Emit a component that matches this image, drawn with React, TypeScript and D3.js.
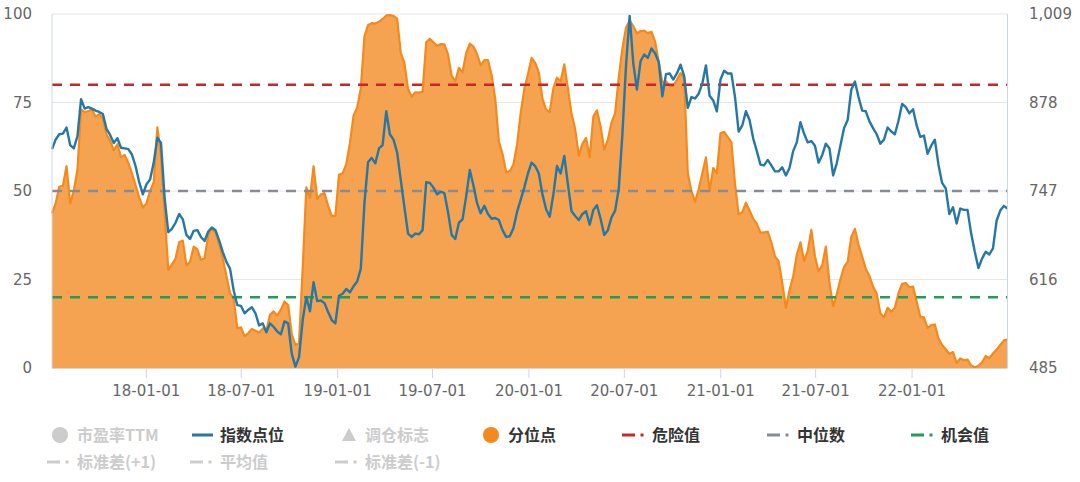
import * as d3 from "d3";
import { useEffect, useRef } from "react";

// 数据区间（首尾两个交易周）
const START = new Date(2017, 6, 6);
const END = new Date(2022, 6, 3);

// 分位点（%），按周
const percentile = [
  43.7, 46.5, 51.2, 51.5, 57.0, 46.5, 50.0, 56.0, 73.0, 72.3,
  72.6, 73.0, 71.0, 71.7, 70.5, 66.0, 64.2, 61.5, 63.2, 59.5,
  60.2, 58.0, 55.0, 51.6, 48.2, 45.3, 46.5, 50.0, 52.5, 68.0,
  60.0, 44.0, 27.7, 29.2, 30.9, 35.5, 36.0, 29.0, 30.0, 34.3,
  33.5, 30.5, 31.0, 37.5, 39.5, 38.3, 35.0, 31.0, 26.0, 21.1,
  19.7, 11.2, 11.5, 9.0, 9.8, 11.0, 10.5, 10.0, 11.2, 10.5,
  15.0, 16.0, 14.8, 16.5, 18.8, 17.8, 9.5, 6.5, 7.0, 28.0,
  51.0, 48.0, 57.0, 47.8, 49.0, 49.4, 45.8, 43.0, 43.0, 54.6,
  55.0, 57.6, 63.5, 71.3, 73.5, 79.0, 93.7, 96.9, 97.4, 97.3,
  97.8, 98.6, 99.6, 99.7, 99.5, 98.7, 89.0, 86.2, 78.8, 76.6,
  77.9, 77.8, 78.0, 92.0, 93.0, 92.0, 91.0, 91.5, 91.4, 88.6,
  82.5, 81.0, 84.8, 83.5, 89.0, 91.6, 90.8, 88.7, 85.5, 87.0,
  87.0, 82.8, 76.0, 64.0, 60.5, 55.3, 55.6, 57.5, 63.0, 72.0,
  78.8, 83.0, 87.6, 86.2, 83.5, 76.0, 73.0, 72.3, 79.0, 82.0,
  81.0, 85.8, 79.0, 71.8, 67.5, 60.0, 63.3, 65.0, 59.5, 71.0,
  72.8, 68.2, 61.7, 64.5, 69.3, 72.0, 82.0, 90.3, 96.2, 98.1,
  96.6, 94.5, 95.2, 95.3, 94.6, 95.0, 92.2, 86.5, 80.7, 81.0,
  79.7, 79.7, 81.4, 83.3, 82.0, 55.0, 50.0, 47.0, 50.5, 55.0,
  59.5, 50.0, 56.5, 55.0, 66.3, 66.7, 65.2, 63.8, 52.0, 43.4,
  44.0, 46.7, 44.5, 42.2, 40.7, 38.2, 38.3, 38.5, 35.5, 31.5,
  30.2, 24.0, 17.0, 22.0, 25.8, 32.0, 35.5, 30.3, 33.0, 39.0,
  31.5, 27.3, 29.0, 34.3, 24.0, 17.5, 20.8, 25.0, 28.5, 30.0,
  37.0, 39.3, 34.8, 31.5, 28.0, 26.0, 23.0, 21.0, 15.5, 14.3,
  17.0, 15.9, 17.0, 21.2, 23.8, 24.0, 22.8, 23.0, 18.8, 14.5,
  14.3, 11.3, 12.1, 12.3, 8.3, 6.5, 5.3, 4.0, 4.5, 1.4,
  2.7, 2.2, 2.4, 0.7, 0.2, 0.6, 1.6, 3.4, 2.8, 4.1,
  5.2, 6.5, 7.8, 8.0,
];

// 指数点位，按周
const indexPoints = [
  809, 823, 831, 832, 841, 815, 810, 828, 883, 869,
  871, 869, 866, 864, 861, 839, 830, 818, 825, 811,
  810, 809, 801, 784, 760, 742, 757, 764, 789, 826,
  818, 737, 686, 691, 700, 713, 705, 682, 676, 688,
  689, 679, 673, 687, 693, 689, 674, 657, 642, 632,
  600, 578, 577, 566, 571, 575, 566, 548, 551, 538,
  551, 546, 539, 535, 554, 551, 506, 487, 501, 556,
  590, 569, 612, 584, 585, 581, 568, 556, 551, 592,
  595, 602, 597, 606, 613, 632, 729, 790, 796, 788,
  810, 815, 865, 831, 823, 804, 763, 723, 684, 679,
  684, 683, 689, 760, 759, 752, 742, 746, 744, 716,
  682, 676, 700, 705, 739, 778, 755, 729, 714, 725,
  713, 706, 707, 704, 689, 679, 680, 692, 716, 734,
  752, 773, 789, 784, 773, 742, 720, 709, 742, 784,
  773, 799, 757, 717, 710, 704, 713, 717, 697, 719,
  726, 706, 682, 689, 708, 718, 750, 831, 933, 1006,
  936, 897, 939, 949, 944, 958, 951, 938, 887, 920,
  921, 912, 921, 934, 917, 870, 886, 884, 891, 906,
  933, 888, 881, 865, 912, 925, 921, 921, 886, 835,
  844, 865, 852, 825, 806, 786, 785, 793, 785, 776,
  776, 782, 770, 781, 806, 819, 849, 832, 819, 821,
  814, 789, 800, 817, 810, 770, 788, 814, 840, 852,
  897, 909, 886, 866, 865, 850, 840, 831, 817, 823,
  841, 835, 831, 851, 876, 871, 862, 868, 844, 827,
  829, 802, 814, 823, 786, 759, 751, 713, 723, 699,
  721, 719, 719, 684, 657, 633, 647, 657, 653, 662,
  703, 718, 725, 721,
];

const leftTicks = [0, 25, 50, 75, 100];
const rightTicks = [485, 616, 747, 878, 1009];
const xTickLabels = [
  "2018-01-01", "2018-07-01", "2019-01-01", "2019-07-01", "2020-01-01",
  "2020-07-01", "2021-01-01", "2021-07-01", "2022-01-01",
];

// 参考线：危险值 / 中位数 / 机会值
const refNames = ["危险值", "中位数", "机会值"];
const refValues = [80, 50, 20];
const refColors = ["#c9262c", "#868b94", "#1f9d5b"];

const BLUE = "#2577a6";
const ORANGE = "#f4891c";
const ORANGE_FILL = "#f5a350";

const legendRow1 = ["市盈率TTM", "指数点位", "调仓标志", "分位点", "危险值", "中位数", "机会值"];
const legendRow2 = ["标准差(+1)", "平均值", "标准差(-1)"];

export default function App() {
  const ref = useRef<SVGSVGElement | null>(null);

  useEffect(() => {
    if (!ref.current) return;
    const svg = d3.select(ref.current);
    svg.selectAll("*").remove();

    const left = 52;
    const right = 1007.5;
    const top = 14;
    const bottom = 368;

    const x = d3.scaleTime().domain([START, END]).range([left, right]);
    const yL = d3.scaleLinear().domain([0, 100]).range([bottom, top]);
    const yR = d3.scaleLinear().domain([485, 1009]).range([bottom, top]);

    const step = (END.getTime() - START.getTime()) / (percentile.length - 1);
    const dates = percentile.map((_, i) => new Date(START.getTime() + i * step));

    const axisFont = "'DejaVu Sans', Verdana, sans-serif";
    const cjkFont = "'Noto Sans CJK SC', 'Noto Sans', sans-serif";

    // grid
    svg
      .append("g")
      .selectAll("line")
      .data(leftTicks.filter((t) => t > 0))
      .join("line")
      .attr("x1", left)
      .attr("x2", right)
      .attr("y1", (d) => yL(d))
      .attr("y2", (d) => yL(d))
      .attr("stroke", "#e6e6e6")
      .attr("stroke-width", 1);

    // area + line for 分位点
    const area = d3
      .area<number>()
      .x((_, i) => x(dates[i]))
      .y0(bottom)
      .y1((d) => yL(d));
    const pLine = d3
      .line<number>()
      .x((_, i) => x(dates[i]))
      .y((d) => yL(d));

    svg.append("path").datum(percentile).attr("d", area).attr("fill", ORANGE_FILL);
    svg
      .append("path")
      .datum(percentile)
      .attr("d", pLine)
      .attr("fill", "none")
      .attr("stroke", ORANGE)
      .attr("stroke-width", 2.2)
      .attr("stroke-linejoin", "round");

    // reference lines
    svg
      .append("g")
      .selectAll("line")
      .data(refValues)
      .join("line")
      .attr("x1", left)
      .attr("x2", right)
      .attr("y1", (d) => yL(d))
      .attr("y2", (d) => yL(d))
      .attr("stroke", (_, i) => refColors[i])
      .attr("stroke-width", 2.6)
      .attr("stroke-dasharray", "10,8");

    // 指数点位
    const iLine = d3
      .line<number>()
      .x((_, i) => x(dates[i]))
      .y((d) => yR(d));
    svg
      .append("path")
      .datum(indexPoints)
      .attr("d", iLine)
      .attr("fill", "none")
      .attr("stroke", BLUE)
      .attr("stroke-width", 2.4)
      .attr("stroke-linejoin", "round");

    // frame lines
    const frame = "#ccd6eb";
    svg.append("line").attr("x1", left).attr("x2", left).attr("y1", top).attr("y2", bottom).attr("stroke", frame);
    svg.append("line").attr("x1", right).attr("x2", right).attr("y1", top).attr("y2", bottom).attr("stroke", frame);

    // x axis
    const xAxis = d3
      .axisBottom(x)
      .tickValues(xTickLabels.map((s) => new Date(s + "T00:00:00")))
      .tickSize(10)
      .tickPadding(7)
      .tickFormat((d) => d3.timeFormat("%y-%m-%d")(d as Date));
    const gx = svg.append("g").attr("transform", `translate(0,${bottom})`).call(xAxis);
    gx.select(".domain").attr("stroke", frame).attr("d", `M${left},0.5H${right}`);
    gx.selectAll(".tick line").attr("stroke", frame);
    gx.selectAll(".tick text").attr("fill", "#666").style("font-size", "15px").style("font-family", axisFont);

    // left axis
    const gl = svg
      .append("g")
      .attr("transform", `translate(${left},0)`)
      .call(d3.axisLeft(yL).tickValues(leftTicks).tickSize(0).tickPadding(20));
    gl.select(".domain").remove();
    gl.selectAll(".tick text").attr("fill", "#666").style("font-size", "15px").style("font-family", axisFont);

    // right axis
    const gr = svg
      .append("g")
      .attr("transform", `translate(${right},0)`)
      .call(
        d3
          .axisRight(yR)
          .tickValues(rightTicks)
          .tickSize(0)
          .tickPadding(21.5)
          .tickFormat((d) => d3.format(",")(d as number))
      );
    gr.select(".domain").remove();
    gr.selectAll(".tick text").attr("fill", "#666").style("font-size", "15px").style("font-family", axisFont);

    // legend
    const off = "#cccccc";
    const on = "#333333";
    const row1X = [77, 220, 365, 508, 652, 797, 941];
    const row1Y = 435;
    const row2X = [77, 220, 365];
    const row2Y = 462;
    const lg = svg.append("g");

    const addText = (t: string, tx: number, ty: number, color: string) =>
      lg
        .append("text")
        .attr("x", tx)
        .attr("y", ty)
        .attr("dy", "0.36em")
        .attr("fill", color)
        .style("font-size", "16px")
        .style("font-weight", "bold")
        .style("font-family", cjkFont)
        .text(t);

    const dashDot = (tx: number, ty: number, color: string) => {
      lg.append("line")
        .attr("x1", tx - 30)
        .attr("x2", tx - 17)
        .attr("y1", ty)
        .attr("y2", ty)
        .attr("stroke", color)
        .attr("stroke-width", 3);
      lg.append("rect")
        .attr("x", tx - 11.5)
        .attr("y", ty - 1.5)
        .attr("width", 3)
        .attr("height", 3)
        .attr("fill", color);
    };

    legendRow1.forEach((name, i) => {
      const tx = row1X[i];
      const ty = row1Y;
      if (i === 0) {
        lg.append("circle").attr("cx", tx - 17).attr("cy", ty).attr("r", 8).attr("fill", off);
        addText(name, tx, ty, off);
      } else if (i === 1) {
        lg.append("line")
          .attr("x1", tx - 28)
          .attr("x2", tx - 7)
          .attr("y1", ty)
          .attr("y2", ty)
          .attr("stroke", BLUE)
          .attr("stroke-width", 3);
        addText(name, tx, ty, on);
      } else if (i === 2) {
        const cx = tx - 16;
        lg.append("path")
          .attr("d", `M${cx},${ty - 7}L${cx + 7},${ty + 6}L${cx - 7},${ty + 6}Z`)
          .attr("fill", off);
        addText(name, tx, ty, off);
      } else if (i === 3) {
        lg.append("circle").attr("cx", tx - 17).attr("cy", ty).attr("r", 8).attr("fill", ORANGE);
        addText(name, tx, ty, on);
      } else {
        const k = refNames.indexOf(name);
        dashDot(tx, ty, refColors[k]);
        addText(name, tx, ty, on);
      }
    });

    legendRow2.forEach((name, i) => {
      dashDot(row2X[i], row2Y, off);
      addText(name, row2X[i], row2Y, off);
    });
  }, []);

  return (
    <svg
      ref={ref}
      width={1080}
      height={482}
      style={{ position: "absolute", left: 0, top: 0, background: "#fff" }}
    />
  );
}
